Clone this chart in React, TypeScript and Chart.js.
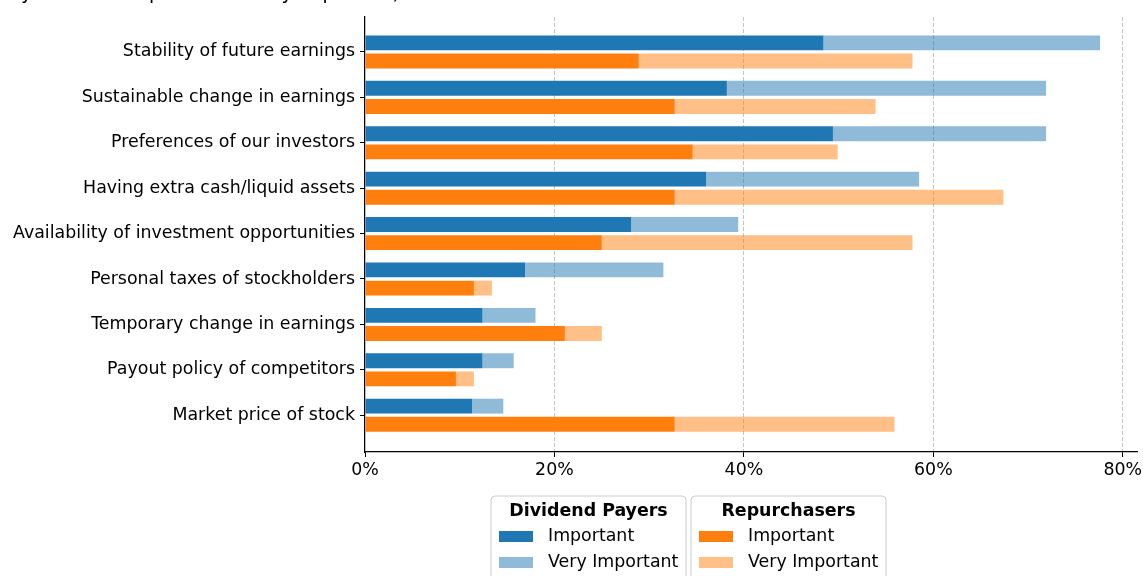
import React, { useEffect, useRef } from 'react';
import { Chart, registerables } from 'chart.js';

Chart.register(...registerables);

const categories = [
  'Stability of future earnings',
  'Sustainable change in earnings',
  'Preferences of our investors',
  'Having extra cash/liquid assets',
  'Availability of investment opportunities',
  'Personal taxes of stockholders',
  'Temporary change in earnings',
  'Payout policy of competitors',
  'Market price of stock',
];

// percentage points (segment lengths)
const dividendImportant = [48.4, 38.2, 49.4, 36.0, 28.1, 16.9, 12.4, 12.4, 11.3];
const dividendVeryImportant = [29.2, 33.7, 22.5, 22.5, 11.3, 14.6, 5.6, 3.3, 3.3];
const repurchaseImportant = [28.9, 32.7, 34.6, 32.7, 25.0, 11.5, 21.1, 9.6, 32.7];
const repurchaseVeryImportant = [28.9, 21.2, 15.3, 34.7, 32.8, 1.9, 3.9, 1.9, 23.2];

const xTickValues = [0, 20, 40, 60, 80];
const legendTitles = ['Dividend Payers', 'Repurchasers'];
const legendItems = ['Important', 'Very Important'];
const titleText = 'Percentage of firms that say they consider important or very important).';

const BLUE = '#1f77b4';
const BLUE_LIGHT = 'rgba(31,119,180,0.5)';
const ORANGE = '#ff7f0e';
const ORANGE_LIGHT = 'rgba(255,127,14,0.5)';
const FONT = 'DejaVu Sans';
const FS = 17.4;

const toPoints = (arr: number[]) => arr.map((v, i) => ({ x: v, y: i }));

const overlayPlugin = {
  id: 'overlay',
  afterDraw(chart: any) {
    const ctx = chart.ctx as CanvasRenderingContext2D;
    ctx.save();
    // clipped title at the very top
    ctx.fillStyle = '#000';
    ctx.font = `19px "${FONT}"`;
    ctx.textAlign = 'right';
    ctx.textBaseline = 'alphabetic';
    ctx.fillText(titleText, 406, -1);

    // grouped legends
    const boxes = [
      { x: 491, colors: [BLUE, BLUE_LIGHT] },
      { x: 691, colors: [ORANGE, ORANGE_LIGHT] },
    ];
    const w = 195;
    const top = 496;
    const h = 110;
    const r = 4;
    boxes.forEach((b, gi) => {
      ctx.beginPath();
      ctx.moveTo(b.x + r, top);
      ctx.lineTo(b.x + w - r, top);
      ctx.arcTo(b.x + w, top, b.x + w, top + r, r);
      ctx.lineTo(b.x + w, top + h);
      ctx.lineTo(b.x, top + h);
      ctx.lineTo(b.x, top + r);
      ctx.arcTo(b.x, top, b.x + r, top, r);
      ctx.closePath();
      ctx.fillStyle = 'rgba(255,255,255,0.8)';
      ctx.fill();
      ctx.strokeStyle = '#cccccc';
      ctx.lineWidth = 1;
      ctx.stroke();

      ctx.fillStyle = '#000';
      ctx.font = `bold ${FS}px "${FONT}"`;
      ctx.textAlign = 'center';
      ctx.textBaseline = 'middle';
      ctx.fillText(legendTitles[gi], b.x + w / 2, 511);

      legendItems.forEach((label, li) => {
        const cy = 536.5 + li * 26;
        ctx.fillStyle = b.colors[li];
        ctx.fillRect(b.x + 8, cy - 5.5, 34, 11);
        ctx.fillStyle = '#000';
        ctx.font = `${FS}px "${FONT}"`;
        ctx.textAlign = 'left';
        ctx.fillText(label, b.x + 57, cy);
      });
    });
    ctx.restore();
  },
};

export default function App() {
  const canvasRef = useRef<HTMLCanvasElement | null>(null);

  useEffect(() => {
    if (!canvasRef.current) return;
    const common = {
      categoryPercentage: 0.8,
      barPercentage: 0.82,
      borderWidth: 0,
    };
    const chart = new Chart(canvasRef.current, {
      type: 'bar',
      data: {
        datasets: [
          { label: 'Dividend Payers Important', data: toPoints(dividendImportant), backgroundColor: BLUE, stack: 'div', ...common },
          { label: 'Dividend Payers Very Important', data: toPoints(dividendVeryImportant), backgroundColor: BLUE_LIGHT, stack: 'div', ...common },
          { label: 'Repurchasers Important', data: toPoints(repurchaseImportant), backgroundColor: ORANGE, stack: 'rep', ...common },
          { label: 'Repurchasers Very Important', data: toPoints(repurchaseVeryImportant), backgroundColor: ORANGE_LIGHT, stack: 'rep', ...common },
        ] as any,
      },
      options: {
        indexAxis: 'y',
        animation: false,
        responsive: false,
        maintainAspectRatio: false,
        layout: { padding: { top: 17, right: 6, left: 0, bottom: 0 } },
        plugins: { legend: { display: false }, tooltip: { enabled: false }, title: { display: false } },
        scales: {
          x: {
            type: 'linear',
            min: 0,
            max: 81.5,
            stacked: true,
            offset: false,
            afterBuildTicks: (s: any) => {
              s.ticks = xTickValues.map((v) => ({ value: v }));
            },
            afterFit: (s: any) => {
              s.height = 576 - 452;
              s.paddingRight = 0;
              s.paddingLeft = 0;
            },
            grid: {
              offset: false,
              color: (c: any) => (c.tick && c.tick.value === 0 ? 'rgba(0,0,0,0)' : '#c4c4c4'),
              lineWidth: 1,
              drawTicks: true,
              tickLength: 5,
              tickColor: '#000',
              tickWidth: 1,
            },
            border: { display: true, color: '#000', width: 1.25, dash: [4, 2] },
            ticks: {
              callback: (v: any) => `${v}%`,
              font: { family: FONT, size: FS },
              color: '#000',
              padding: 3,
              maxRotation: 0,
              autoSkip: false,
            },
          },
          y: {
            type: 'linear',
            reverse: true,
            min: -0.77,
            max: 8.81,
            offset: false,
            afterBuildTicks: (s: any) => {
              s.ticks = categories.map((_, i) => ({ value: i }));
            },
            afterFit: (s: any) => {
              s.width = 365;
              s.paddingTop = 0;
              s.paddingBottom = 0;
            },
            grid: {
              offset: false,
              drawOnChartArea: false,
              drawTicks: true,
              tickLength: 5,
              color: '#000',
              tickColor: '#000',
              tickWidth: 1,
            },
            border: { display: true, color: '#000', width: 1.25 },
            ticks: {
              callback: (v: any) => categories[v as number] ?? '',
              font: { family: FONT, size: FS },
              color: '#000',
              padding: 5,
              autoSkip: false,
            },
          },
        },
      } as any,
      plugins: [overlayPlugin],
    });
    return () => chart.destroy();
  }, []);

  return (
    <div style={{ position: 'fixed', left: 0, top: 0, width: 1143, height: 576, background: '#fff' }}>
      <canvas ref={canvasRef} width={1143} height={576} style={{ display: 'block', width: 1143, height: 576 }} />
    </div>
  );
}
